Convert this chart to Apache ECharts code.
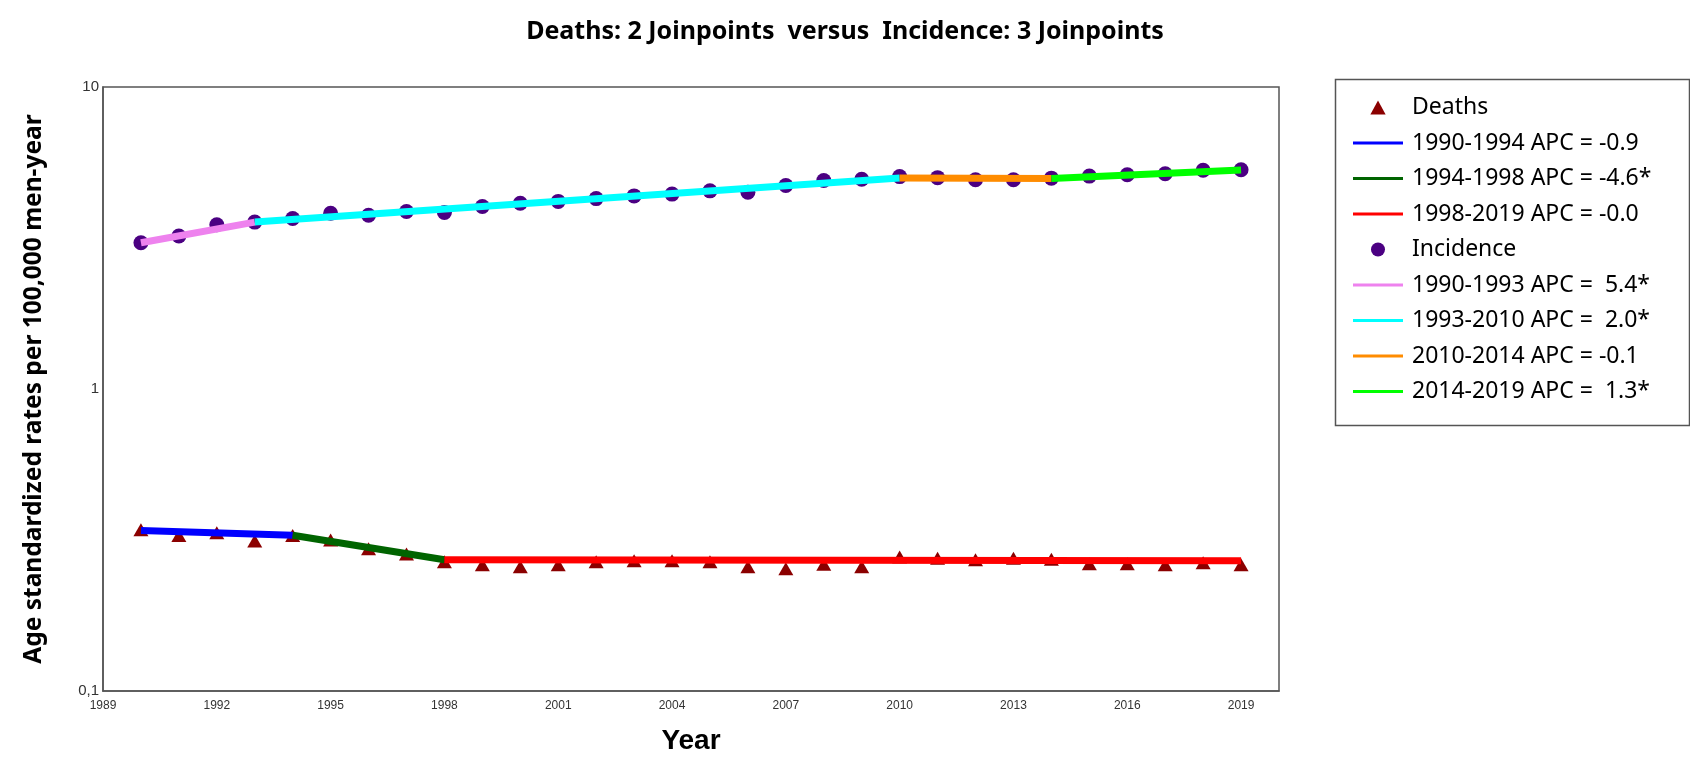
<!DOCTYPE html>
<html>
<head>
<meta charset="utf-8">
<script src="https://cdn.jsdelivr.net/npm/echarts@6/dist/echarts.min.js"></script>
<style>
html,body{margin:0;padding:0;background:#fff;}
#chart{width:1690px;height:760px;}
</style>
</head>
<body>
<div id="chart"></div>
<script>
// ---- data ----
const years = [1990,1991,1992,1993,1994,1995,1996,1997,1998,1999,2000,2001,2002,2003,2004,2005,2006,2007,2008,2009,2010,2011,2012,2013,2014,2015,2016,2017,2018,2019];
const deathsObs = [0.342,0.327,0.334,0.314,0.327,0.316,0.296,0.284,0.268,0.262,0.258,0.262,0.268,0.270,0.270,0.268,0.258,0.254,0.263,0.258,0.278,0.275,0.272,0.275,0.273,0.264,0.264,0.262,0.266,0.262];
const incidenceObs = [3.05,3.21,3.50,3.57,3.67,3.82,3.76,3.87,3.84,4.02,4.12,4.18,4.27,4.36,4.42,4.53,4.48,4.72,4.90,4.95,5.05,5.01,4.93,4.93,4.99,5.07,5.12,5.16,5.30,5.32];

const deathJoinYears = [1990,1994,1998,2019];
const deathFit = [0.340,0.328,0.272,0.270];
const deathSegLabels = ['1990-1994 APC = -0.9','1994-1998 APC = -4.6*','1998-2019 APC = -0.0'];
const deathSegColors = ['#0000FF','#006400','#FF0000'];

const incJoinYears = [1990,1993,2010,2014,2019];
const incFit = [3.05,3.57,5.00,4.98,5.31];
const incSegLabels = ['1990-1993 APC =  5.4*','1993-2010 APC =  2.0*','2010-2014 APC = -0.1','2014-2019 APC =  1.3*'];
const incSegColors = ['#EE82EE','#00FFFF','#FF8C00','#00FF00'];

const yTickLabels = {0.1:'0,1', 1:'1', 10:'10'};
const titleText = 'Deaths: 2 Joinpoints  versus  Incidence: 3 Joinpoints';

// ---- build ----
const chart = echarts.init(document.getElementById('chart'), null, {renderer:'canvas'});
const series = [];
series.push({
  name:'Deaths', type:'scatter', symbol:'triangle', symbolSize:[15,13],
  itemStyle:{color:'#8B0000', opacity:1}, z:2,
  data: years.map((y,i)=>[y,deathsObs[i]])
});
series.push({
  name:'Incidence', type:'scatter', symbol:'circle', symbolSize:15,
  itemStyle:{color:'#4B0082', opacity:1}, z:2,
  data: years.map((y,i)=>[y,incidenceObs[i]])
});
function addSegs(joinYears, fit, labels, colors){
  for(let k=0;k<labels.length;k++){
    series.push({
      name:labels[k], type:'line', symbol:'none', z:3,
      lineStyle:{color:colors[k], width:7},
      itemStyle:{color:colors[k]},
      data:[[joinYears[k],fit[k]],[joinYears[k+1],fit[k+1]]]
    });
  }
}
addSegs(deathJoinYears, deathFit, deathSegLabels, deathSegColors);
addSegs(incJoinYears, incFit, incSegLabels, incSegColors);

const triIcon = 'path://M6,0L12,11L0,11Z';
const circIcon = 'path://M6,0A6,6,0,1,1,5.99,0Z';
const lineIcon = 'path://M0,0H48V3H0Z';
const legendData = [{name:'Deaths', icon:triIcon}]
  .concat(deathSegLabels.map(n=>({name:n, icon:lineIcon})))
  .concat([{name:'Incidence', icon:circIcon}])
  .concat(incSegLabels.map(n=>({name:n, icon:lineIcon})));

const option = {
  backgroundColor:'#fff',
  animation:false,
  title:{
    text:titleText, left:'center', top:14,
    textStyle:{fontFamily:'Noto Sans', fontWeight:'bold', fontSize:25, color:'#000'}
  },
  grid:{left:103, right:411, top:87, bottom:67, show:true, borderColor:'#555', borderWidth:1.5, backgroundColor:'transparent'},
  xAxis:{
    type:'value', min:1989, max:2020, interval:3,
    name:'Year', nameLocation:'middle', nameGap:36,
    nameTextStyle:{fontFamily:'Liberation Sans', fontWeight:'bold', fontSize:28, color:'#000'},
    axisLine:{show:true, lineStyle:{color:'#555', width:1.5}},
    axisTick:{show:false},
    splitLine:{show:false},
    axisLabel:{
      margin:9, fontFamily:'Liberation Sans', fontSize:12, color:'#333',
      formatter:v=> ((v-1989)%3===0 ? String(v) : '')
    }
  },
  yAxis:{
    type:'log', logBase:10, min:0.1, max:10,
    name:'Age standardized rates per 100,000 men-year', nameLocation:'middle', nameGap:56,
    nameTextStyle:{fontFamily:'Noto Sans', fontWeight:'bold', fontSize:24.5, color:'#000'},
    axisLine:{show:true, lineStyle:{color:'#555', width:1.5}},
    axisTick:{show:false},
    splitLine:{show:false},
    minorTick:{show:false},
    axisLabel:{
      margin:4, fontFamily:'Liberation Sans', fontSize:15, color:'#333',
      formatter:v=> (yTickLabels[v] !== undefined ? yTickLabels[v] : String(v).replace('.',','))
    }
  },
  legend:{
    orient:'vertical', left:1348, top:90,
    itemWidth:50, itemHeight:14, itemGap:10.5,
    symbolKeepAspect:true,
    selectedMode:false,
    textStyle:{fontFamily:'Noto Sans', fontSize:23, color:'#000', lineHeight:25, padding:[0,0,0,4]},
    data:legendData
  },
  graphic:[{
    type:'rect', left:1333, top:77, silent:true,
    shape:{width:354, height:346},
    style:{fill:'none', stroke:'#555', lineWidth:1.5}
  }],
  series:series
};
chart.setOption(option);
</script>
</body>
</html>
